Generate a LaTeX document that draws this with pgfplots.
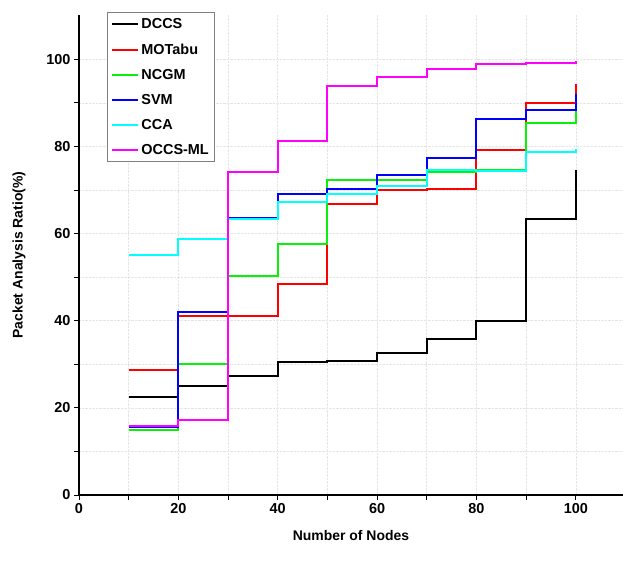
\documentclass[border=0pt]{standalone}
\usepackage{fontspec}
\setmainfont{Liberation Sans}
\usepackage{pgfplots}
\pgfplotsset{compat=1.18}
\definecolor{cBlack}{RGB}{0,0,0}
\definecolor{cRed}{RGB}{255,0,0}
\definecolor{cGreen}{RGB}{10,240,10}
\definecolor{cBlue}{RGB}{0,0,255}
\definecolor{cCyan}{RGB}{0,255,255}
\definecolor{cMagenta}{RGB}{255,0,255}
\begin{document}
\begin{tikzpicture}
\useasboundingbox (-79bp,-69bp) rectangle (544bp,495bp);
\begin{axis}[
  scale only axis, width=544bp, height=480bp,
  xmin=0, xmax=109.5, ymin=0, ymax=110.2,
  axis x line=bottom, axis y line=left, axis line style={-, line width=1.2pt},
  xtick={0,20,...,100}, ytick={0,20,...,100},
  minor x tick num=1, minor y tick num=1,
  tick align=outside, major tick length=5bp, minor tick length=5bp,
  tick style={line width=1pt, black},
  grid=both, grid style={densely dotted, gray!20, line width=0.6pt},
  /pgf/number format/assume math mode=true,
  tick label style={font=\bfseries\fontsize{14.5}{16}\selectfont},
  label style={font=\bfseries\fontsize{14}{16}\selectfont},
  xlabel={Number of Nodes}, ylabel={Packet Analysis Ratio(\%)},
  xlabel style={yshift=-10bp},
  ylabel style={yshift=14bp},
  legend style={at={(0.0515,1.006)}, anchor=north west, draw=gray, line width=0.8pt,
    font=\bfseries\fontsize{14.5}{16}\selectfont, row sep=9.5bp, inner xsep=4bp, inner ysep=4bp},
  legend cell align=left,
  legend image code/.code={\draw[#1, line width=2bp] (-3bp,0bp) -- (23bp,0bp);},
]
\addplot[const plot mark left, no marks, line width=2bp, cBlack] coordinates {(10,22.5) (20,25.1) (30,27.4) (40,30.6) (50,30.8) (60,32.6) (70,35.9) (80,40.0) (90,63.4) (100,74.6)};
\addplot[const plot mark left, no marks, line width=2bp, cRed] coordinates {(10,28.6) (20,41.0) (30,41.0) (40,48.5) (50,66.7) (60,70.0) (70,70.3) (80,79.3) (90,90.1) (100,94.4)};
\addplot[const plot mark left, no marks, line width=2bp, cGreen] coordinates {(10,15.0) (20,30.1) (30,50.2) (40,57.6) (50,72.3) (60,72.4) (70,74.2) (80,74.6) (90,85.5) (100,88.4)};
\addplot[const plot mark left, no marks, line width=2bp, cBlue] coordinates {(10,15.7) (20,42.0) (30,63.6) (40,69.0) (50,70.2) (60,73.4) (70,77.4) (80,86.3) (90,88.5) (100,92.0)};
\addplot[const plot mark left, no marks, line width=2bp, cCyan] coordinates {(10,55.2) (20,58.8) (30,63.3) (40,67.2) (50,69.1) (60,71.0) (70,74.5) (80,74.4) (90,78.8) (100,79.4)};
\addplot[const plot mark left, no marks, line width=2bp, cMagenta] coordinates {(10,15.9) (20,17.2) (30,74.2) (40,81.3) (50,93.9) (60,95.9) (70,97.8) (80,98.9) (90,99.1) (100,99.7)};
\legend{DCCS,MOTabu,NCGM,SVM,CCA,OCCS-ML}
\end{axis}
\end{tikzpicture}
\end{document}
